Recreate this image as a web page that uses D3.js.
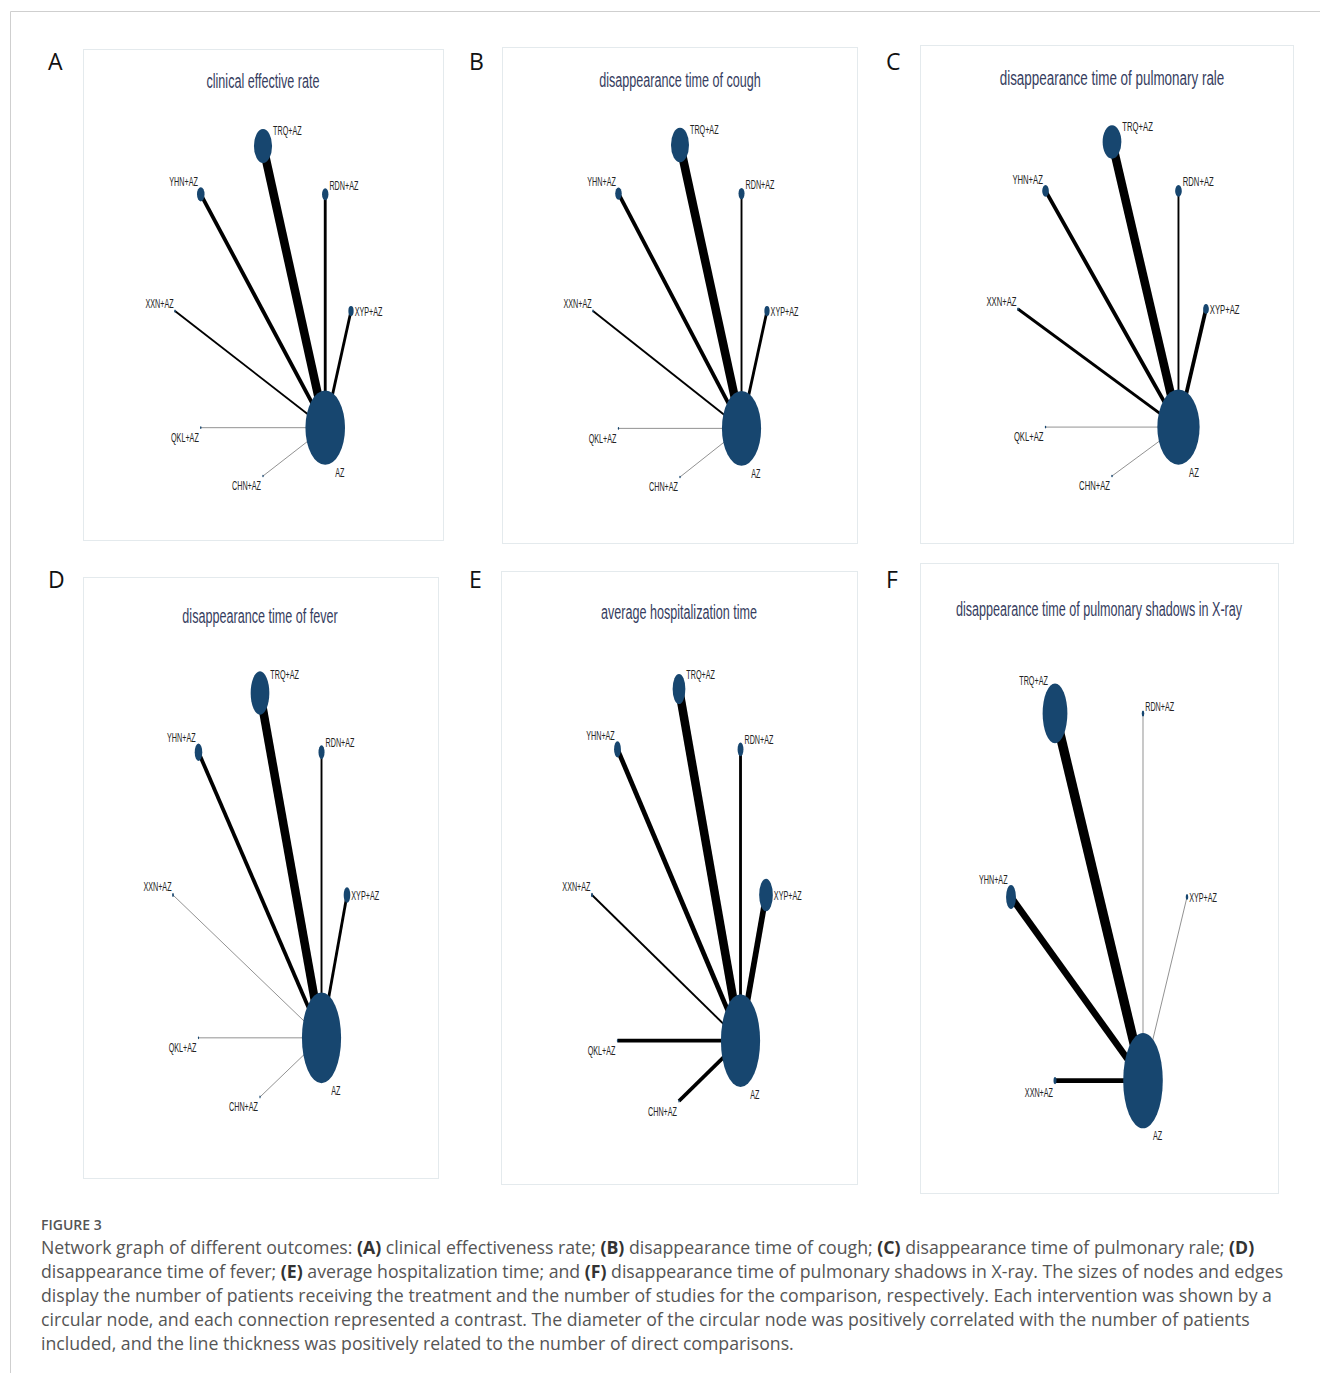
<!DOCTYPE html>
<meta charset="utf-8">
<title>Figure 3 - network graphs</title>
<style>
  body { margin: 0; background: #fff; }
  svg { display: block; }
</style>
<body>
<div id="fig"></div>
<script src="https://d3js.org/d3.v7.min.js"></script>
<script>

// ---- data ----
var panelLetters = ["A", "B", "C", "D", "E", "F"];
var panelTitles = [
  "clinical effective rate",
  "disappearance time of cough",
  "disappearance time of pulmonary rale",
  "disappearance time of fever",
  "average hospitalization time",
  "disappearance time of pulmonary shadows in X-ray"
];

// treatments in circle order (counter-clockwise, starting at the right)
var treatments8 = ["XYP+AZ", "RDN+AZ", "TRQ+AZ", "YHN+AZ", "XXN+AZ", "QKL+AZ", "CHN+AZ", "AZ"];
var treatments6 = ["XYP+AZ", "RDN+AZ", "TRQ+AZ", "YHN+AZ", "XXN+AZ", "AZ"];

// number of patients per node (same order as treatments)
var patientsA = [280, 340, 960, 400, 90, 60, 60, 2100];
var patientsB = [200, 230, 690, 250, 60, 40, 40, 1500];
var patientsC = [190, 220, 620, 220, 60, 40, 40, 1400];
var patientsD = [220, 200, 620, 250, 60, 40, 40, 1300];
var patientsE = [420, 180, 390, 210, 60, 40, 40, 1200];
var patientsF = [50, 50, 500, 200, 60, 800];

// number of studies for each treatment vs AZ (same order, AZ excluded)
var studiesA = [3, 3, 9, 4, 2, 1, 1];
var studiesB = [3, 2, 9, 4, 2, 1, 1];
var studiesC = [4, 2, 9, 4, 3, 1, 1];
var studiesD = [3, 2, 9, 4, 1, 1, 1];
var studiesE = [6, 3, 9, 5, 2, 4, 4];
var studiesF = [1, 1, 10, 7, 5];

var captionHead = "FIGURE 3";
var captionLines = [
  [["Network graph of different outcomes: ", 0], ["(A)", 1], [" clinical effectiveness rate; ", 0], ["(B)", 1], [" disappearance time of cough; ", 0], ["(C)", 1], [" disappearance time of pulmonary rale; ", 0], ["(D)", 1]],
  [["disappearance time of fever; ", 0], ["(E)", 1], [" average hospitalization time; and ", 0], ["(F)", 1], [" disappearance time of pulmonary shadows in X-ray. The sizes of nodes and edges", 0]],
  [["display the number of patients receiving the treatment and the number of studies for the comparison, respectively. Each intervention was shown by a", 0]],
  [["circular node, and each connection represented a contrast. The diameter of the circular node was positively correlated with the number of patients", 0]],
  [["included, and the line thickness was positively related to the number of direct comparisons.", 0]]
];

var panelData = [
  {nodes: treatments8, patients: patientsA, studies: studiesA},
  {nodes: treatments8, patients: patientsB, studies: studiesB},
  {nodes: treatments8, patients: patientsC, studies: studiesC},
  {nodes: treatments8, patients: patientsD, studies: studiesD},
  {nodes: treatments8, patients: patientsE, studies: studiesE},
  {nodes: treatments6, patients: patientsF, studies: studiesF}
];

// ---- layout of each panel (frame box, circle centre and radii) ----
var frames = [
  {x0: 83,  y0: 49,  x1: 443,  y1: 540,  cx: 263,  cy: 311, rx: 88, ry: 165, ty: 88,  k: 0.6,  lx: 48,  ly: 70},
  {x0: 502, y0: 47,  x1: 857,  y1: 543,  cx: 680,  cy: 311, rx: 87, ry: 166, ty: 87,  k: 0.6,  lx: 469, ly: 70},
  {x0: 920, y0: 45,  x1: 1293, y1: 543,  cx: 1112, cy: 309, rx: 94, ry: 167, ty: 85,  k: 0.64, lx: 886, ly: 70},
  {x0: 83,  y0: 577, x1: 438,  y1: 1178, cx: 260,  cy: 895, rx: 87, ry: 202, ty: 623, k: 0.6,  lx: 48,  ly: 588},
  {x0: 501, y0: 571, x1: 857,  y1: 1184, cx: 679,  cy: 895, rx: 87, ry: 206, ty: 619, k: 0.6,  lx: 469, ly: 588},
  {x0: 920, y0: 563, x1: 1278, y1: 1193, cx: 1099, cy: 897, rx: 88, ry: 212, ty: 616, k: 0.6,  lx: 886, ly: 588}
];

var width = 1320, height = 1373;

var svg = d3.select("#fig").append("svg")
    .attr("width", width)
    .attr("height", height);

// outer frame of the figure
svg.append("path")
    .attr("d", "M10.5," + height + "V11.5H" + width)
    .attr("fill", "none")
    .attr("stroke", "#cfcfcf");

// line width and colour from the number of studies
var widthScale = d3.scaleLinear().domain([0, 10]).range([0, 9.5]);
var edgeColor = d3.scaleLinear().domain([1, 2]).range(["#8c8c8c", "#000"]).clamp(true);

function labelPos(n) {
  var c = Math.cos(n.a), s = Math.sin(n.a);
  if (s > 0.01) {
    if (c >= -0.01) return {x: n.x + n.rx + 1, y: n.y - 0.6 * n.ry - 1, anchor: "start"};
    return {x: n.x - 0.5 * n.rx - 1, y: n.y - 0.9 * n.ry - 2, anchor: "end"};
  }
  if (s > -0.01) {
    if (c > 0) return {x: n.x + n.rx + 1, y: n.y + 5, anchor: "start"};
    return {x: n.x - 0.5 * n.rx - 1, y: n.y - 0.9 * n.ry - 2, anchor: "end"};
  }
  if (c > 0.01) return {x: n.x + 0.5 * n.rx, y: n.y + n.ry + 12, anchor: "start"};
  return {x: n.x - 2, y: n.y + n.ry + 13, anchor: "end"};
}

frames.forEach(function(f, p) {
  var d = panelData[p];
  var g = svg.append("g");

  // panel letter
  g.append("text")
      .attr("x", f.lx).attr("y", f.ly)
      .attr("font-family", "'Open Sans', sans-serif")
      .attr("font-size", 23)
      .attr("fill", "#111")
      .text(panelLetters[p]);

  // light frame
  g.append("rect")
      .attr("x", f.x0 + 0.5).attr("y", f.y0 + 0.5)
      .attr("width", f.x1 - f.x0).attr("height", f.y1 - f.y0)
      .attr("fill", "#fff")
      .attr("stroke", "#e4eaed");

  // title, condensed like the source image
  g.append("text")
      .attr("transform", "translate(" + f.cx + "," + f.ty + ") scale(" + f.k + ",1)")
      .attr("text-anchor", "middle")
      .attr("font-family", "'Liberation Sans', Arial, sans-serif")
      .attr("font-size", 21)
      .attr("fill", "#363d60")
      .text(panelTitles[p]);

  // circular layout
  var x = d3.scaleLinear().domain([-1, 1]).range([f.cx - f.rx, f.cx + f.rx]);
  var y = d3.scaleLinear().domain([-1, 1]).range([f.cy + f.ry, f.cy - f.ry]);
  var r = d3.scaleLinear().domain([0, d3.max(d.patients)]).range([0, 0.225 * f.ry]);
  var n = d.nodes.length;

  var nodes = d.nodes.map(function(name, i) {
    var a = i * 2 * Math.PI / n;
    var ry = Math.max(r(d.patients[i]), 1.3);
    return {name: name, a: a, x: x(Math.cos(a)), y: y(Math.sin(a)), ry: ry, rx: ry * f.rx / f.ry};
  });
  var hub = nodes[n - 1];

  var edges = d.studies.map(function(s, i) { return {source: nodes[i], target: hub, studies: s}; });

  g.append("g").selectAll("line")
    .data(edges)
    .join("line")
      .attr("x1", function(e) { return e.source.x; })
      .attr("y1", function(e) { return e.source.y; })
      .attr("x2", function(e) { return e.target.x; })
      .attr("y2", function(e) { return e.target.y; })
      .attr("stroke", function(e) { return edgeColor(e.studies); })
      .attr("stroke-width", function(e) { return widthScale(e.studies); });

  g.append("g").selectAll("ellipse")
    .data(nodes)
    .join("ellipse")
      .attr("cx", function(e) { return e.x; })
      .attr("cy", function(e) { return e.y; })
      .attr("rx", function(e) { return e.rx; })
      .attr("ry", function(e) { return e.ry; })
      .attr("fill", "#17466f");

  g.append("g").selectAll("text")
    .data(nodes)
    .join("text")
      .each(function(e) { e.lab = labelPos(e); })
      .attr("transform", function(e) { return "translate(" + e.lab.x + "," + e.lab.y + ") scale(" + f.k + ",1)"; })
      .attr("text-anchor", function(e) { return e.lab.anchor; })
      .attr("font-family", "'Liberation Sans', Arial, sans-serif")
      .attr("font-size", 12)
      .attr("fill", "#222")
      .text(function(e) { return e.name; });
});

// ---- caption ----
var cap = svg.append("g").attr("font-family", "'Open Sans', sans-serif");
cap.append("text")
    .attr("x", 41).attr("y", 1230)
    .attr("font-size", 14)
    .attr("font-weight", 600)
    .attr("fill", "#555")
    .text(captionHead);

cap.selectAll("text.line")
  .data(captionLines)
  .join("text")
    .attr("class", "line")
    .attr("x", 41)
    .attr("y", function(l, i) { return 1254 + i * 24; })
    .attr("font-size", 17.7)
    .attr("fill", "#555")
  .selectAll("tspan")
  .data(function(l) { return l; })
  .join("tspan")
    .attr("font-weight", function(s) { return s[1] ? 700 : 400; })
    .attr("fill", function(s) { return s[1] ? "#333" : "#555"; })
    .text(function(s) { return s[0]; });

</script>
</body>
